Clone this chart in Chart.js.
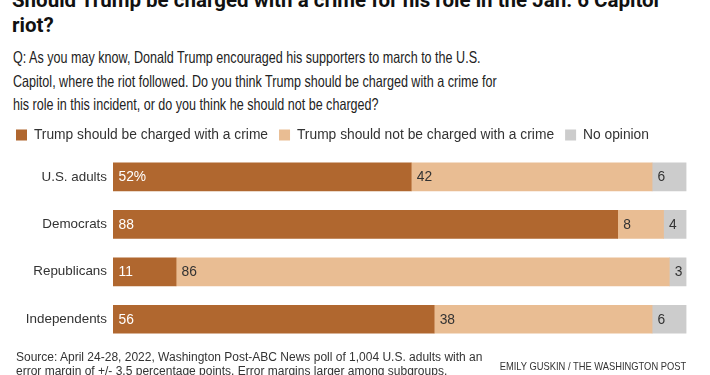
<!DOCTYPE html>
<html>
<head>
<meta charset="utf-8">
<script src="https://cdn.jsdelivr.net/npm/chart.js@4.4.1/dist/chart.umd.min.js"></script>
<style>
  html, body { margin: 0; padding: 0; background: #fff; }
  body { width: 710px; height: 375px; overflow: hidden; position: relative; }
  .title { position: absolute; left: 12px; top: -12px; font: bold 20.5px Roboto, "Liberation Sans", Arial, sans-serif; line-height: 25px; color: #111; white-space: nowrap; }
  .question { position: absolute; left: 13px; top: 46px; font: 16.5px "Liberation Sans", Arial, sans-serif; line-height: 23.5px; color: #222; white-space: nowrap; transform: scaleX(0.762); transform-origin: 0 0; }
  .source { position: absolute; left: 16px; top: 349.5px; font: 12px "Liberation Sans", Arial, sans-serif; line-height: 14.6px; color: #333; white-space: nowrap; }
  .credit { position: absolute; right: 24px; top: 359.8px; font: 10.7px "Liberation Sans", Arial, sans-serif; line-height: 13px; color: #333; white-space: nowrap; transform: scaleX(0.875); transform-origin: 100% 0; }
  #c { position: absolute; left: 0; top: 112px; }
</style>
</head>
<body>
<div class="title">Should Trump be charged with a crime for his role in the Jan. 6 Capitol<br>riot?</div>
<div class="question">Q: As you may know, Donald Trump encouraged his supporters to march to the U.S.<br>Capitol, where the riot followed. Do you think Trump should be charged with a crime for<br>his role in this incident, or do you think he should not be charged?</div>
<canvas id="c" width="710" height="245"></canvas>
<div class="source">Source: April 24-28, 2022, Washington Post-ABC News poll of 1,004 U.S. adults with an<br>error margin of +/- 3.5 percentage points. Error margins larger among subgroups.</div>
<div class="credit">EMILY GUSKIN / THE WASHINGTON POST</div>
<script>
const categories = ['U.S. adults', 'Democrats', 'Republicans', 'Independents'];
const seriesNames = ['Trump should be charged with a crime', 'Trump should not be charged with a crime', 'No opinion'];
const charged = [52, 88, 11, 56];
const notCharged = [42, 8, 86, 38];
const noOpinion = [6, 4, 3, 6];

const colors = ['#B0672F', '#E9BD93', '#CCCCCC'];
const labelColors = ['#ffffff', '#333333', '#333333'];
const FONT = '"Liberation Sans", Arial, sans-serif';

const valueLabels = {
  id: 'valueLabels',
  afterDatasetsDraw(chart) {
    const ctx = chart.ctx;
    ctx.save();
    ctx.font = '13.8px ' + FONT;
    ctx.textBaseline = 'middle';
    ctx.textAlign = 'left';
    chart.data.datasets.forEach((ds, di) => {
      const meta = chart.getDatasetMeta(di);
      meta.data.forEach((bar, i) => {
        const v = ds.data[i];
        const text = (di === 0 && i === 0) ? v + '%' : String(v);
        const left = Math.min(bar.x, bar.base);
        ctx.fillStyle = labelColors[di];
        ctx.fillText(text, left + 5.5, bar.y + 0.5);
      });
    });
    ctx.restore();
  }
};

Chart.defaults.font.family = FONT;
Chart.defaults.color = '#333';

new Chart(document.getElementById('c'), {
  type: 'bar',
  data: {
    labels: categories,
    datasets: [
      { label: seriesNames[0], data: charged, backgroundColor: colors[0], borderWidth: 0, barThickness: 28 },
      { label: seriesNames[1], data: notCharged, backgroundColor: colors[1], borderWidth: 0, barThickness: 28 },
      { label: seriesNames[2], data: noOpinion, backgroundColor: colors[2], borderWidth: 0, barThickness: 28 }
    ]
  },
  options: {
    indexAxis: 'y',
    responsive: false,
    animation: false,
    devicePixelRatio: 1,
    layout: { padding: { top: 5, left: 5, right: 23.5, bottom: 0 } },
    plugins: {
      legend: {
        position: 'top',
        align: 'start',
        labels: { boxWidth: 11, boxHeight: 11, padding: 11, font: { size: 13.8 }, color: '#333' }
      },
      tooltip: { enabled: false },
      title: { display: false }
    },
    scales: {
      x: {
        stacked: true, min: 0, max: 100, position: 'top',
        grid: { display: false, drawTicks: false },
        border: { display: false },
        ticks: { display: false },
        afterFit(s) { s.height = 1.4; }
      },
      y: {
        stacked: true,
        grid: { display: false, drawTicks: false },
        border: { display: false },
        ticks: { padding: 6, font: { size: 13.4 }, color: '#333' },
        afterFit(s) { s.width = 108; }
      }
    }
  },
  plugins: [valueLabels]
});
</script>
</body>
</html>
